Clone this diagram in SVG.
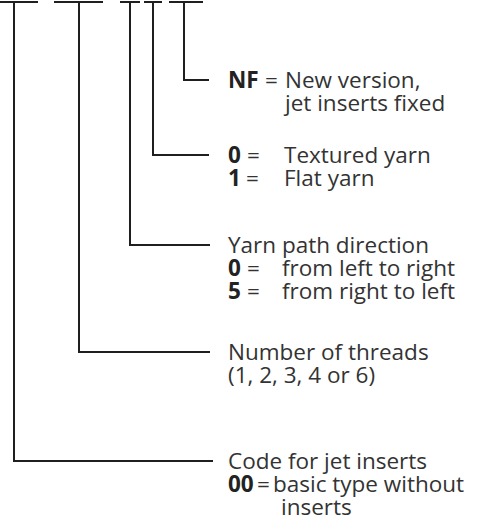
<svg xmlns="http://www.w3.org/2000/svg" width="492" height="530" viewBox="0 0 492 530">
<style>
.ln{stroke:#1f1f1f;stroke-width:2;fill:none}
text{font-family:"Open Sans","Liberation Sans",sans-serif;font-size:22.5px;fill:#333}
.b{font-weight:bold;fill:#222}
</style>
<rect width="492" height="530" fill="#fff"/>
<g id="connectors">
<path class="ln" d="M0 2H38M54 2H103M120 2H140M144 2H162M169 2H203"/>
<path class="ln" d="M184 2V80H209"/>
<path class="ln" d="M153 2V155H209"/>
<path class="ln" d="M130 2V245H210"/>
<path class="ln" d="M79 2V352H210"/>
<path class="ln" d="M14 2V461H213"/>
</g>
<g id="nf">
<text x="228" y="88" class="b">NF</text>
<text x="265" y="88">=</text>
<text x="285" y="88">New version,</text>
<text x="285" y="111">jet inserts fixed</text>
</g>
<g id="yarn">
<text x="228" y="163" class="b">0</text>
<text x="247" y="163">=</text>
<text x="284" y="163">Textured yarn</text>
<text x="228" y="186" class="b">1</text>
<text x="246" y="186">=</text>
<text x="284" y="186">Flat yarn</text>
</g>
<g id="direction">
<text x="228" y="253">Yarn path direction</text>
<text x="228" y="276" class="b">0</text>
<text x="247" y="276">=</text>
<text x="282" y="276">from left to right</text>
<text x="228" y="299" class="b">5</text>
<text x="247" y="299">=</text>
<text x="282" y="299">from right to left</text>
</g>
<g id="threads">
<text x="228" y="360">Number of threads</text>
<text x="228" y="383">(1, 2, 3, 4 or 6)</text>
</g>
<g id="inserts">
<text x="228" y="469">Code for jet inserts</text>
<text x="228" y="492" class="b">00</text>
<text x="257" y="492">=</text>
<text x="273" y="492">basic type without</text>
<text x="281" y="515">inserts</text>
</g>
</svg>
